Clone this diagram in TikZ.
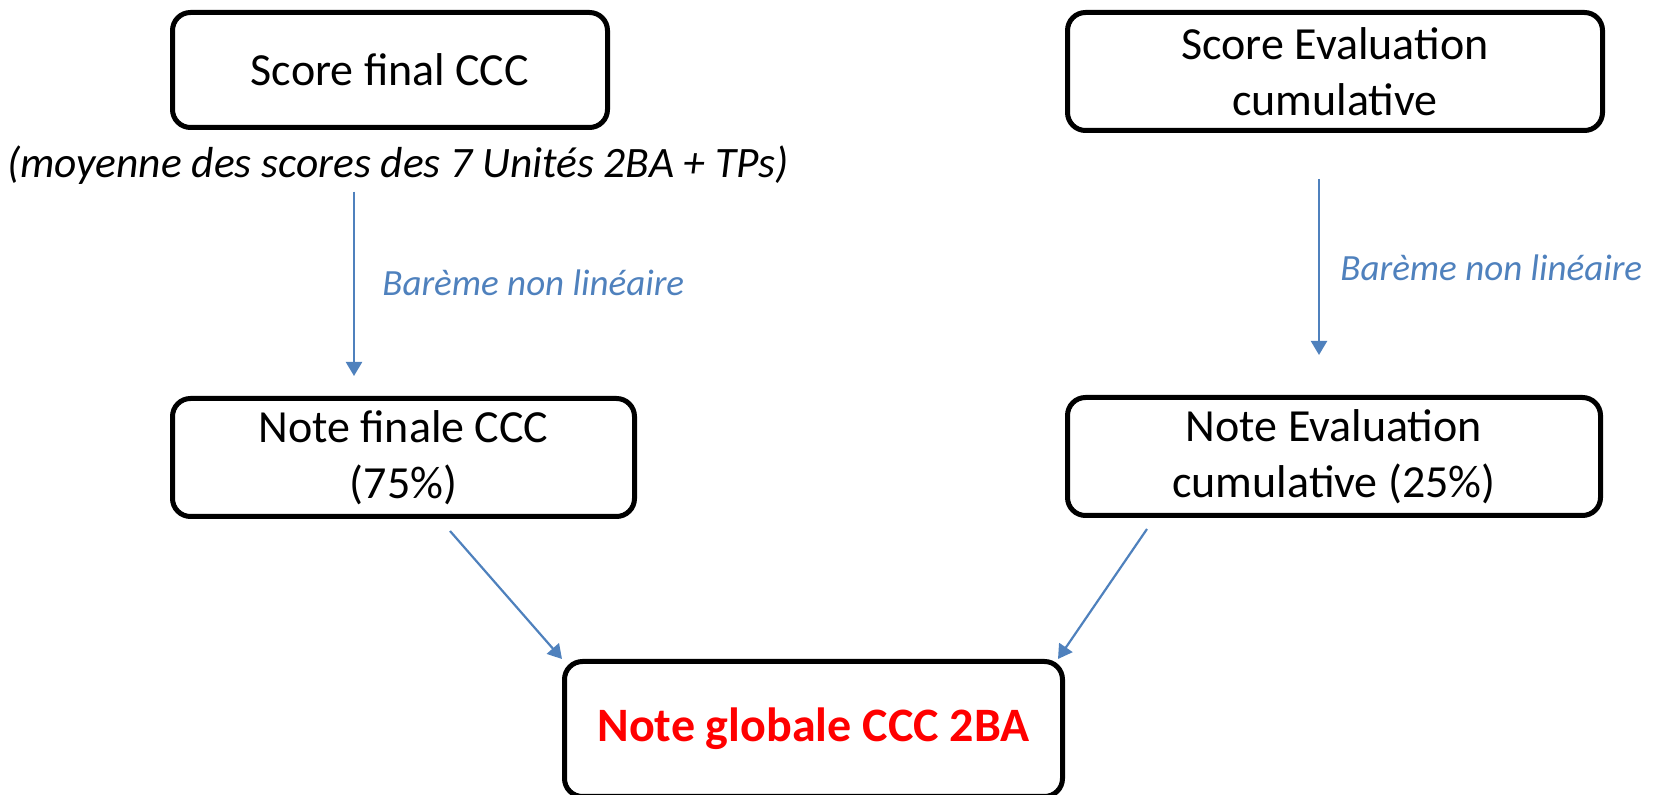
\documentclass[tikz,border=0pt]{standalone}
\usepackage{fontspec}
\setmainfont{Carlito}
\usetikzlibrary{positioning}
\usetikzlibrary{arrows.meta}
\definecolor{acc}{RGB}{79,129,189}
\tikzset{box/.style={draw,line width=2.5pt,rounded corners=9pt,inner sep=0pt,align=center,font=\fontsize{23}{28}\selectfont}}
\tikzset{flow/.style={draw=acc,line width=1.1pt,-{Triangle[length=7pt,width=8pt]}}}
\tikzset{lbl/.style={text=acc,inner sep=0pt,font=\fontsize{18.5}{22}\selectfont\itshape}}

\begin{document}
\begin{tikzpicture}[x=0.5pt,y=-0.5pt]
    \useasboundingbox (0,0) rectangle (1655,795);
        \node[box, minimum width=217.5pt, minimum height=57.5pt] (sc) at (390, 70) {Score final CCC};
        \node[inner sep=0pt, font=\fontsize{21.7}{26}\selectfont\itshape] (sub) at (398, 165) {(moyenne des scores des 7 Unités 2BA + TPs)};
        \node[box, minimum width=231pt, minimum height=59pt] (fin) at (403.5, 457.5) {Note finale CCC\\(75\%)};
        \node[box, minimum width=267.5pt, minimum height=59pt] (se) at (1335, 71.5) {Score Evaluation\\cumulative};
        \node[box, minimum width=266.5pt, minimum height=59pt] (ev) at (1334, 456.5) {Note Evaluation\\cumulative (25\%)};
        \node[box, minimum width=249pt, minimum height=67.5pt, text=red, font=\fontsize{24}{28}\selectfont\bfseries] (glob) at (813.5, 729) {Note globale CCC 2BA};
        \coordinate (x1) at (354, 0);
        \coordinate (x2) at (1319, 0);
        \draw[flow, shorten <=3.5pt, shorten >=10pt] (sub.south -| x1) -- (fin.north -| x1);
        \draw[flow, shorten <=23pt, shorten >=20pt] (se.south -| x2) -- (ev.north -| x2);
        \node[lbl, anchor=west] (b1) at (382, 283) {Barème non linéaire};
        \node[lbl, anchor=west] (b2) at (1340, 268) {Barème non linéaire};
        \draw[flow] ([shift={(46.5,12)}]fin.south) -- (glob.north west);
        \draw[flow] ([shift={(-187,11)}]ev.south) -- ([shift={(-7,0)}]glob.north east);
    \end{tikzpicture}
\end{document}
